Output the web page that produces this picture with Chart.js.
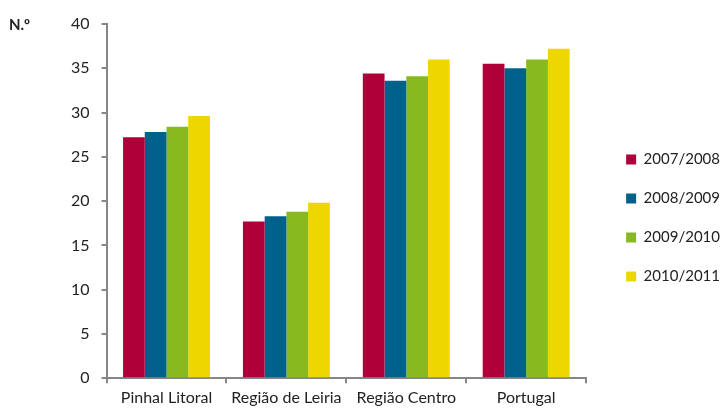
<!DOCTYPE html>
<html>
<head>
<meta charset="utf-8">
<script src="https://cdn.jsdelivr.net/npm/chart.js@4/dist/chart.umd.min.js"></script>
<style>
  html, body { margin: 0; padding: 0; background: #fff; }
  #wrap { width: 726px; height: 412px; position: relative; }
</style>
</head>
<body>
<div id="wrap"><canvas id="chart"></canvas></div>
<script>
// categorias e valores por ano letivo
const categories = ['Pinhal Litoral', 'Região de Leiria', 'Região Centro', 'Portugal'];
const seriesNames = ['2007/2008', '2008/2009', '2009/2010', '2010/2011'];
const values2007 = [27.2, 17.7, 34.4, 35.5];
const values2008 = [27.8, 18.3, 33.6, 35.0];
const values2009 = [28.4, 18.8, 34.1, 36.0];
const values2010 = [29.6, 19.8, 36.0, 37.2];
const yTicks = [0, 5, 10, 15, 20, 25, 30, 35, 40];

const colors = ['#b0003a', '#00628b', '#88b91e', '#eed600'];
const axisColor = '#868686';
const fontFamily = 'Lato, "Open Sans", sans-serif';

const allValues = [values2007, values2008, values2009, values2010];

const unitLabel = {
    id: 'unitLabel',
    afterDraw(chart) {
        const ctx = chart.ctx;
        ctx.save();
        ctx.font = 'bold 15px ' + fontFamily;
        ctx.fillStyle = '#222';
        ctx.textBaseline = 'middle';
        ctx.fillText('N.º', 9, 25);
        ctx.restore();
    }
};

new Chart(document.getElementById('chart'), {
    type: 'bar',
    data: {
        labels: categories,
        datasets: seriesNames.map((name, i) => ({
            label: name,
            data: allValues[i],
            backgroundColor: colors[i],
            borderWidth: 0,
            categoryPercentage: 0.725,
            barPercentage: 1.0
        }))
    },
    options: {
        responsive: true,
        maintainAspectRatio: false,
        animation: false,
        layout: {
            padding: { top: 24, left: 59, right: -4, bottom: 0 }
        },
        scales: {
            x: {
                grid: {
                    offset: true,
                    drawOnChartArea: false,
                    tickLength: 5,
                    color: axisColor,
                    lineWidth: 2
                },
                border: { color: axisColor, width: 2 },
                ticks: {
                    color: '#222',
                    padding: 12,
                    maxRotation: 0,
                    autoSkip: false,
                    font: { family: fontFamily, size: 16, lineHeight: 0.3 }
                }
            },
            y: {
                min: 0,
                max: 40,
                afterBuildTicks: axis => {
                    axis.ticks = yTicks.map(v => ({ value: v }));
                },
                grid: {
                    drawOnChartArea: false,
                    tickLength: 5,
                    color: axisColor,
                    lineWidth: 2
                },
                border: { color: axisColor, width: 2 },
                ticks: {
                    color: '#222',
                    padding: 12,
                    font: { family: fontFamily, size: 16 }
                }
            },
            // espaço vazio entre o gráfico e a legenda
            gap: {
                type: 'linear',
                axis: 'y',
                position: 'right',
                display: false,
                min: 0,
                max: 1,
                afterFit: scale => { scale.width = 16; }
            }
        },
        plugins: {
            legend: {
                position: 'right',
                labels: {
                    boxWidth: 10,
                    boxHeight: 10,
                    padding: 24,
                    color: '#222',
                    font: { family: fontFamily, size: 15 }
                }
            },
            tooltip: { enabled: false }
        }
    },
    plugins: [unitLabel]
});
</script>
</body>
</html>
